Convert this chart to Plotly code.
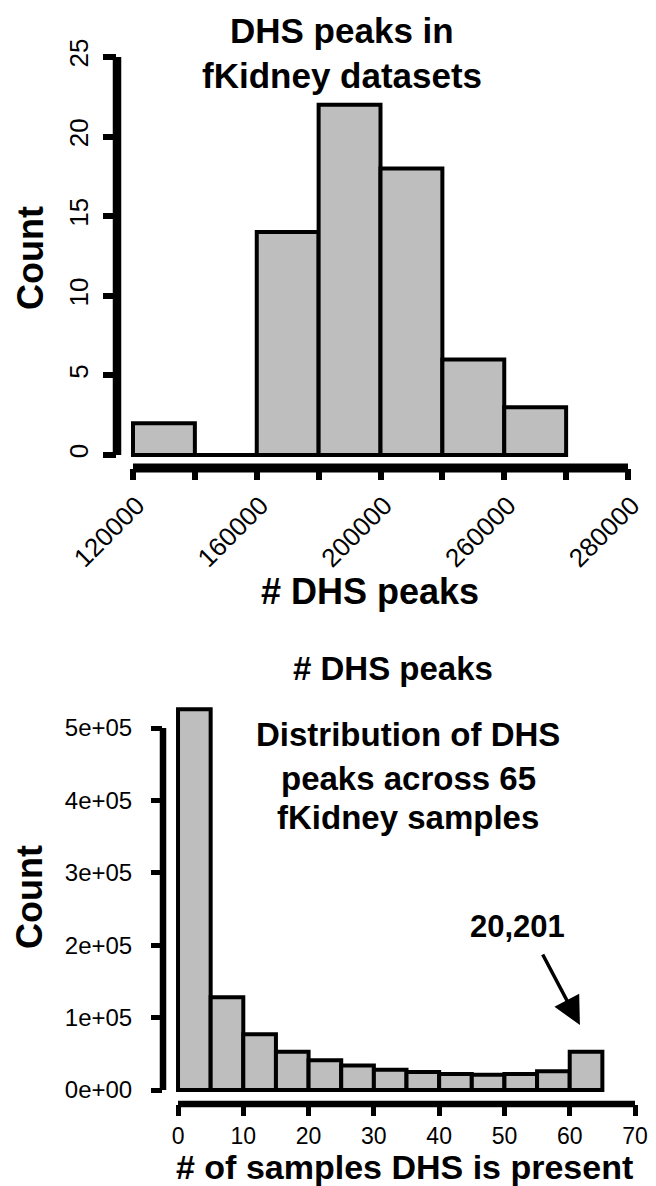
import plotly.graph_objects as go

W, H = 656, 1186
FONT = "Liberation Sans"

# ---------------- data: top histogram ----------------
top_bin_left = [120000, 140000, 160000, 180000, 200000, 220000, 240000]
top_bin_width = 20000
top_counts = [2, 0, 14, 22, 18, 6, 3]
top_xtick_vals = [120000, 140000, 160000, 180000, 200000, 220000, 240000, 260000, 280000]
top_xtick_text = ["120000", "", "160000", "", "200000", "", "260000", "", "280000"]
top_ytick_vals = [0, 5, 10, 15, 20, 25]

# ---------------- data: bottom histogram ----------------
bot_bin_left = [0, 5, 10, 15, 20, 25, 30, 35, 40, 45, 50, 55, 60]
bot_bin_width = 5
bot_counts = [526000, 128000, 77000, 53000, 41000, 34000, 28000, 25000,
              22000, 21000, 22000, 26000, 53000]
bot_xtick_vals = [0, 10, 20, 30, 40, 50, 60, 70]
bot_ytick_vals = [0, 100000, 200000, 300000, 400000, 500000]
bot_ytick_text = ["0e+00", "1e+05", "2e+05", "3e+05", "4e+05", "5e+05"]


def px(p):
    return p / W


def py(p):
    return 1 - p / H


GRAY = "#bebebe"
fig = go.Figure()

# top bars (baseline line shows empty bins as in R's hist)
fig.add_trace(go.Scatter(
    x=[top_bin_left[0], top_bin_left[-1] + top_bin_width], y=[0, 0],
    mode="lines", line=dict(color="black", width=4), hoverinfo="skip",
    xaxis="x", yaxis="y", showlegend=False))
fig.add_trace(go.Bar(
    x=[b + top_bin_width / 2 for b in top_bin_left], y=top_counts,
    width=[top_bin_width] * len(top_bin_left),
    marker=dict(color=GRAY, line=dict(color="black", width=4)),
    xaxis="x", yaxis="y", showlegend=False))

# bottom bars
fig.add_trace(go.Bar(
    x=[b + bot_bin_width / 2 for b in bot_bin_left], y=bot_counts,
    width=[bot_bin_width] * len(bot_bin_left),
    marker=dict(color=GRAY, line=dict(color="black", width=4)),
    xaxis="x2", yaxis="y2", showlegend=False))

axis_common = dict(showgrid=False, zeroline=False, showline=False, automargin=False,
                   ticks="outside", tickcolor="black", fixedrange=True)

fig.update_layout(
    width=W, height=H,
    margin=dict(l=0, r=0, t=0, b=0, autoexpand=False),
    paper_bgcolor="white", plot_bgcolor="white",
    bargap=0,
    font=dict(family=FONT, color="black"),
    xaxis=dict(**axis_common, domain=[px(117), px(628)], range=[114830, 280000],
               anchor="y", tickvals=top_xtick_vals, ticktext=top_xtick_text,
               ticklen=11, tickwidth=6, tickangle=-45,
               tickfont=dict(size=26, family=FONT),
               ticklabelstandoff=0, ticklabelshift=4),
    yaxis=dict(**axis_common, domain=[py(468), py(57)], range=[-0.817, 25],
               anchor="x", tickvals=top_ytick_vals, ticklen=13, tickwidth=6,
               tickangle=-90, tickfont=dict(size=26, family=FONT),
               ticklabelstandoff=5),
    xaxis2=dict(**axis_common, domain=[px(163), px(635)], range=[-2.30, 70],
                anchor="y2", tickvals=bot_xtick_vals, ticklen=11, tickwidth=5,
                tickfont=dict(size=23, family=FONT), ticklabelstandoff=0),
    yaxis2=dict(**axis_common, domain=[py(1104), py(705)], range=[-19337, 531768],
                anchor="x2", tickvals=bot_ytick_vals, ticktext=bot_ytick_text,
                ticklen=11, tickwidth=5, tickfont=dict(size=24, family=FONT),
                ticklabelstandoff=14),
)

# detached R-style axis lines spanning first to last tick
shapes = [
    dict(type="line", xref="x domain", yref="y", x0=0, x1=0,
         y0=top_ytick_vals[0], y1=top_ytick_vals[-1], line=dict(color="black", width=8.5)),
    dict(type="line", xref="x", yref="y domain", x0=top_xtick_vals[0], x1=top_xtick_vals[-1],
         y0=0, y1=0, line=dict(color="black", width=9)),
    dict(type="line", xref="x2 domain", yref="y2", x0=0, x1=0,
         y0=bot_ytick_vals[0], y1=bot_ytick_vals[-1], line=dict(color="black", width=6.5)),
    dict(type="line", xref="x2", yref="y2 domain", x0=bot_xtick_vals[0], x1=bot_xtick_vals[-1],
         y0=0, y1=0, line=dict(color="black", width=6.5)),
]
fig.update_layout(shapes=shapes)


def txt(s, x, y, size, angle=0, bold=True):
    return dict(text=("<b>%s</b>" % s) if bold else s, x=px(x), y=py(y),
                xref="paper", yref="paper", xanchor="center", yanchor="middle",
                showarrow=False, textangle=angle,
                font=dict(size=size, family=FONT, color="black"))


annotations = [
    txt("DHS peaks in", 342, 30, 35),
    txt("fKidney datasets", 342, 76, 35),
    txt("Count", 31, 258, 36, angle=-90),
    txt("# DHS peaks", 370, 591, 36),
    txt("# DHS peaks", 393, 668, 33),
    txt("Distribution of DHS", 408, 734, 33),
    txt("peaks across 65", 408, 778, 33),
    txt("fKidney samples", 408, 817, 33),
    txt("Count", 30, 897, 36, angle=-90),
    txt("# of samples DHS is present", 404, 1167, 34),
    txt("20,201", 517, 926, 31),
    dict(text="", x=61.56, y=89779, xref="x2", yref="y2", showarrow=True,
         ax=-38, ay=-72, arrowhead=2, arrowsize=1.6, arrowwidth=3.5,
         arrowcolor="black"),
]
fig.update_layout(annotations=annotations)

fig.write_html(
    "out.html",
    config={"displayModeBar": False, "staticPlot": True},
    post_script="document.body.style.margin='0';document.body.style.overflow='hidden';",
)
